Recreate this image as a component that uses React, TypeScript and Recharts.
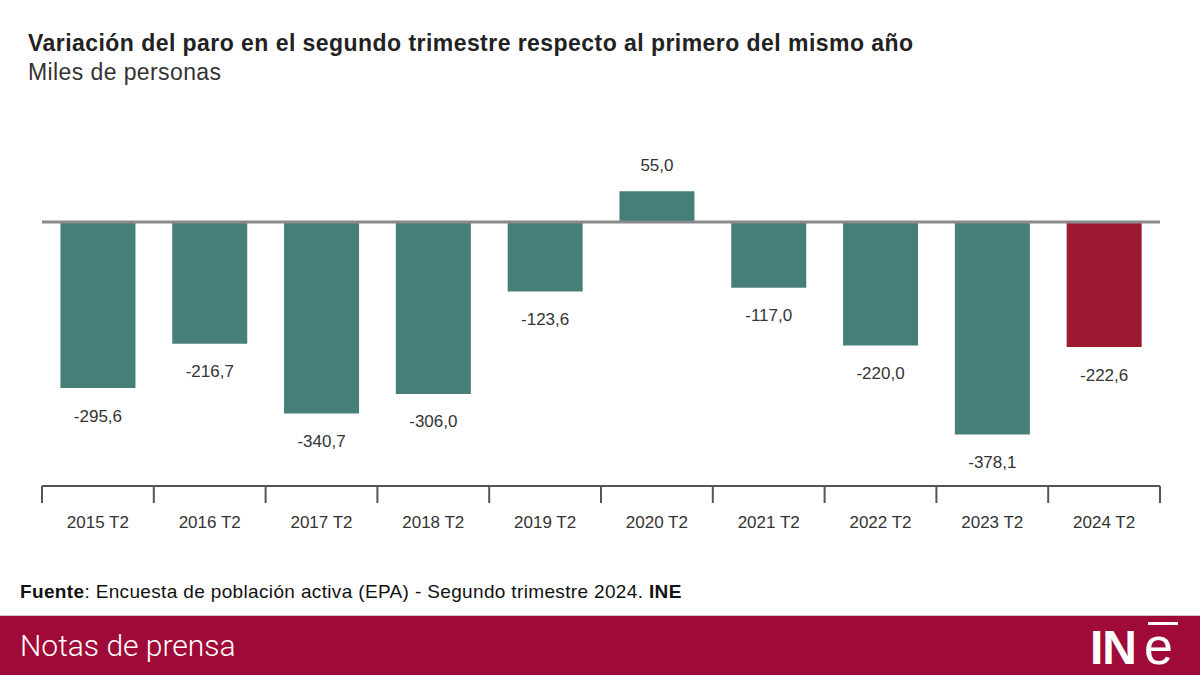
import React from "react";
import { Bar, BarChart, Cell, LabelList, ReferenceLine, XAxis, YAxis } from "recharts";

// Variación del paro T2 vs T1 (miles de personas)
const periods = [
  "2015 T2", "2016 T2", "2017 T2", "2018 T2", "2019 T2",
  "2020 T2", "2021 T2", "2022 T2", "2023 T2", "2024 T2",
];
const changes = [-295.6, -216.7, -340.7, -306.0, -123.6, 55.0, -117.0, -220.0, -378.1, -222.6];
const highlightPeriod = "2024 T2";

const TEAL = "#467f78";
const RED = "#9e1a32";
const BRAND = "#9f0a38";
const FONT = "'Liberation Sans', Arial, sans-serif";

const data = periods.map((period, i) => ({ period, value: changes[i] }));

const fmt = (v: number) => v.toFixed(1).replace(".", ",");

function ValueLabel(props: any) {
  const { x, y, width, height, value } = props;
  const neg = value < 0;
  const top = Math.min(y, y + height);
  const bottom = Math.max(y, y + height);
  return (
    <text
      x={x + width / 2}
      y={neg ? bottom + 28 : top - 26}
      textAnchor="middle"
      dominantBaseline="central"
      fontSize={17}
      fill="#333"
      fontFamily={FONT}
    >
      {fmt(value)}
    </text>
  );
}

function BoundaryTick(props: any) {
  const { x, y, payload, index, visibleTicksCount } = props;
  const half = payload?.offset ?? 0;
  const last = index === (visibleTicksCount ?? periods.length) - 1;
  return (
    <g>
      <line x1={x - half} y1={y - 8} x2={x - half} y2={y + 9} stroke="#555" strokeWidth={2} />
      {last && <line x1={x + half} y1={y - 8} x2={x + half} y2={y + 9} stroke="#555" strokeWidth={2} />}
      <text x={x} y={y + 34} textAnchor="middle" fontSize={17} fill="#333" fontFamily={FONT}>
        {payload.value}
      </text>
    </g>
  );
}

export default function App() {
  return (
    <div style={{ position: "fixed", left: 0, top: 0, width: 1200, height: 675, background: "#fff", fontFamily: FONT, overflow: "hidden" }}>
      <div style={{ position: "absolute", left: 28, top: 30, fontSize: 23, letterSpacing: 0.45, fontWeight: 700, color: "#222", whiteSpace: "nowrap" }}>
        Variación del paro en el segundo trimestre respecto al primero del mismo año
      </div>
      <div style={{ position: "absolute", left: 28, top: 59, fontSize: 23, letterSpacing: 0.4, color: "#333" }}>
        Miles de personas
      </div>

      <div style={{ position: "absolute", left: 0, top: 0 }}>
        <BarChart
          width={1200}
          height={560}
          data={data}
          margin={{ top: 149, right: 40, bottom: 0, left: 42 }}
          barCategoryGap="16.5%"
        >
          <YAxis hide domain={[-470, 130]} />
          <XAxis
            dataKey="period"
            height={74}
            axisLine={{ stroke: "#555", strokeWidth: 2 }}
            tickLine={false}
            tick={<BoundaryTick />}
            interval={0}
          />
          <ReferenceLine y={0} stroke="#8a8a8a" strokeWidth={3} />
          <Bar dataKey="value" isAnimationActive={false}>
            {data.map((d) => (
              <Cell key={d.period} fill={d.period === highlightPeriod ? RED : TEAL} />
            ))}
            <LabelList dataKey="value" content={<ValueLabel />} />
          </Bar>
        </BarChart>
      </div>

      <div style={{ position: "absolute", left: 20, top: 581, fontSize: 19, letterSpacing: 0.35, color: "#111", whiteSpace: "nowrap" }}>
        <b>Fuente</b>: Encuesta de población activa (EPA) - Segundo trimestre 2024. <b>INE</b>
      </div>

      <div style={{ position: "absolute", left: 0, top: 615, width: 1200, height: 60, background: BRAND, borderTop: "1px solid #d9c6cc" }}>
        <div style={{ position: "absolute", left: 20, top: 12, fontSize: 30, color: "#fff", fontFamily: "Roboto, sans-serif", fontWeight: 300 }}>
          Notas de prensa
        </div>
        <svg style={{ position: "absolute", left: 1086, top: 0 }} width={110} height={60}>
          <text x={4} y={48} fontSize={48} fontWeight={700} fill="#fff" fontFamily={FONT} letterSpacing={-1}>IN</text>
          <text x={58} y={48} fontSize={52} fill="#fff" fontFamily={FONT}>e</text>
          <rect x={62} y={6} width={30} height={3} fill="#fff" />
        </svg>
      </div>
    </div>
  );
}
